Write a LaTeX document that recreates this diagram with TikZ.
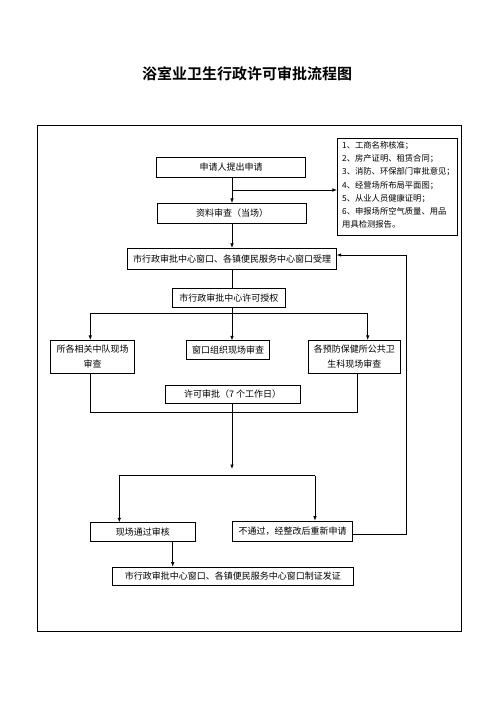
\documentclass[tikz,border=0pt]{standalone}
\usepackage{fontspec}
\setmainfont[BoldFont={Noto Sans CJK SC Bold}]{Noto Sans CJK SC}
\usetikzlibrary{arrows.meta}
\begin{document}
\begin{tikzpicture}[x=1pt,y=-1pt,
  box/.style={draw,line width=0.7pt,inner sep=0pt,align=center,font=\fontsize{9}{12}\selectfont},
  arr/.style={line width=0.7pt,-{Latex[length=4.5pt,width=3.5pt]}},
  ln/.style={line width=0.7pt}]
\useasboundingbox (0,0) rectangle (496,702);
\node[font=\bfseries\fontsize{15}{16}\selectfont] (title) at (247,73.5) {浴室业卫生行政许可审批流程图};
\node[draw,line width=0.8pt,minimum width=424pt,minimum height=506pt,inner sep=0pt] (frame) at (249,378) {};
\node[box,minimum width=148.6pt,minimum height=19.6pt] (apply) at (231,167.5) {申请人提出申请};
\node[box,minimum width=149pt,minimum height=20pt] (check) at (232.2,213.3) {资料审查（当场）};
\node[draw,line width=0.7pt,minimum width=120pt,minimum height=97pt,inner sep=0pt] (notes) at (397.3,186.8) {};
\node[anchor=north west,inner sep=0pt,align=left,font=\fontsize{8.3}{13.1}\selectfont] (notestext) at (342,141.5) {1、工商名称核准；\\2、房产证明、租赁合同；\\3、消防、环保部门审批意见；\\4、经营场所布局平面图；\\5、从业人员健康证明；\\6、申报场所空气质量、用品\\用具检测报告。};
\node[box,minimum width=209.4pt,minimum height=20.7pt] (accept) at (232,258.6) {市行政审批中心窗口、各镇便民服务中心窗口受理};
\node[box,minimum width=113pt,minimum height=19pt] (auth) at (228.8,297.8) {市行政审批中心许可授权};
\node[box,minimum width=84pt,minimum height=33.4pt,font=\fontsize{9}{15}\selectfont] (left) at (92.7,357) {所各相关中队现场\\审查};
\node[box,minimum width=82.6pt,minimum height=18.6pt] (mid) at (228,350) {窗口组织现场审查};
\node[box,minimum width=91.3pt,minimum height=33.4pt,font=\fontsize{9}{15}\selectfont] (right) at (354.3,357) {各预防保健所公共卫\\生科现场审查};
\node[box,minimum width=134.7pt,minimum height=18pt] (permit) at (232.7,394.3) {许可审批（7 个工作日）};
\node[box,minimum width=105pt,minimum height=18.3pt] (pass) at (142.8,531.8) {现场通过审核};
\node[box,minimum width=120.4pt,minimum height=20pt] (fail) at (292.5,531) {不通过，经整改后重新申请};
\node[box,minimum width=241pt,minimum height=18.3pt] (issue) at (232.8,576.2) {市行政审批中心窗口、各镇便民服务中心窗口制证发证};
% helper coordinates
\coordinate (mx) at (232,0);
\coordinate (b1) at (232,190);
\coordinate (br) at (90.3,313.3);
\coordinate (brr) at (367.7,313.3);
\coordinate (bm) at (232,313.3);
\coordinate (jl) at (90.3,412.3);
\coordinate (jr) at (357,412.3);
\coordinate (down) at (232,469);
\coordinate (sl) at (119.3,475.7);
\coordinate (sr) at (315,475.7);
\coordinate (fbx) at (406,0);
\coordinate (fin) at (336.7,255);
\coordinate (px) at (172.7,0);
% connectors
\draw[arr] (apply.south -| mx) -- (check.north -| mx);
\draw[arr] (b1) -- (b1 -| notes.west);
\draw[arr] (check.south -| mx) -- (accept.north -| mx);
\draw[ln] (accept.south -| mx) -- (auth.north -| mx);
\draw[ln] (br) -- (brr);
\draw[arr] (auth.south -| mx) -- (mid.north -| mx);
\draw[arr] (br) -- (left.north -| br);
\draw[arr] (brr) -- (right.north -| brr);
\draw[ln] (left.south -| jl) -- (jl) -- (jr) -- (right.south -| jr);
\draw[arr] (permit.south -| mx) -- (down);
\draw[ln] (sl) -- (sr);
\draw[arr] (sl) -- (pass.north -| sl);
\draw[arr] (sr) -- (fail.north -| sr);
\draw[arr] (pass.south -| px) -- (issue.north -| px);
\draw[arr] (fail.east |- 0,534.3) -- (fbx |- 0,534.3) -- (fbx |- fin) -- (fin);
\end{tikzpicture}
\end{document}
